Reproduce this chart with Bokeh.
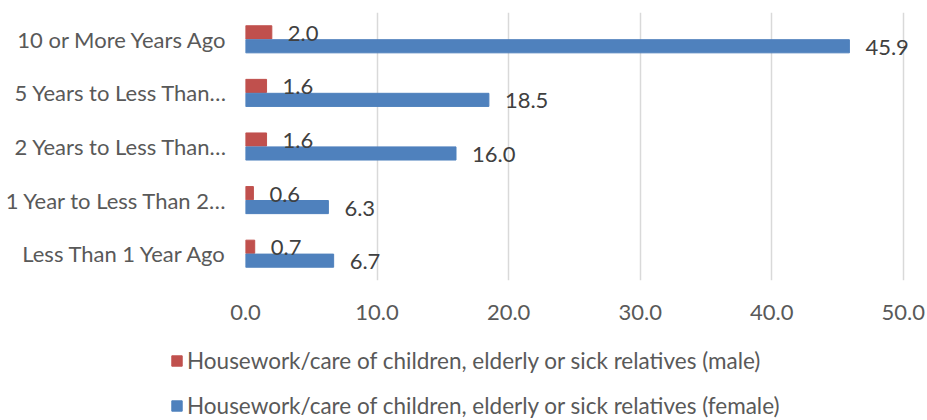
from bokeh.plotting import figure
from bokeh.models import (ColumnDataSource, FactorRange, Range1d, FixedTicker,
                          NumeralTickFormatter, Legend, LegendItem)
from bokeh.transform import dodge
from bokeh.core.properties import value
from bokeh.embed import file_html
from bokeh.resources import INLINE

# Data (bottom to top)
categories = ["Less Than 1 Year Ago", "1 Year to Less Than 2\u2026",
              "2 Years to Less Than\u2026", "5 Years to Less Than\u2026",
              "10 or More Years Ago"]
male = [0.7, 0.6, 1.6, 1.6, 2.0]
female = [6.7, 6.3, 16.0, 18.5, 45.9]
x_ticks = [0, 10, 20, 30, 40, 50]
male_name = "Housework/care of children, elderly or sick relatives (male)"
female_name = "Housework/care of children, elderly or sick relatives (female)"

FONT = "Lato"
RED = "#c0504d"
BLUE = "#4f81bd"

src = ColumnDataSource(dict(
    cat=categories, male=male, female=female,
    male_lbl=[f"{v:.1f}" for v in male],
    female_lbl=[f"{v:.1f}" for v in female],
))

p = figure(width=927, height=340, y_range=FactorRange(*categories, range_padding=0),
           x_range=Range1d(0, 51), output_backend="svg", toolbar_location=None,
           min_border_left=245, min_border_right=11, min_border_top=12,
           min_border_bottom=60)
p.outline_line_color = None
p.background_fill_color = "white"
p.border_fill_color = "white"

p.hbar(y=dodge("cat", 0.13, range=p.y_range), right="male", left=0, height=0.245,
       color=RED, source=src)
p.hbar(y=dodge("cat", -0.13, range=p.y_range), right="female", left=0, height=0.245,
       color=BLUE, source=src)

for col, lbl, off in (("male", "male_lbl", 0.13), ("female", "female_lbl", -0.13)):
    p.text(x=col, y=dodge("cat", off, range=p.y_range), text=lbl, source=src,
           x_offset=16, y_offset=1, text_align="left", text_baseline="middle",
           text_font=value(FONT), text_font_size="22px", text_color="#404040")

p.xaxis.ticker = FixedTicker(ticks=x_ticks)
p.xaxis.formatter = NumeralTickFormatter(format="0.0")
for ax in (p.xaxis[0], p.yaxis[0]):
    ax.axis_line_color = None
    ax.major_tick_line_color = None
    ax.minor_tick_line_color = None
    ax.major_label_text_font = FONT
    ax.major_label_text_font_size = "22px"
    ax.major_label_text_color = "#595959"
p.xaxis.major_label_standoff = 18
p.yaxis.major_label_standoff = 12

p.xgrid.grid_line_color = "#d9d9d9"
p.xgrid.grid_line_width = 1.5
p.ygrid.grid_line_color = None

# Legend panel: a second figure whose ranges keep its proxy bars out of view
lg = figure(width=927, height=80, output_backend="svg", toolbar_location=None,
            x_axis_type=None, y_axis_type=None, min_border=0,
            x_range=Range1d(-2, -1), y_range=FactorRange(*categories))
lg.outline_line_color = None
lg.xgrid.grid_line_color = None
lg.ygrid.grid_line_color = None
lm = lg.hbar(y="cat", right="male", left=0, height=0.5, color=RED, source=src)
lf = lg.hbar(y="cat", right="female", left=0, height=0.5, color=BLUE, source=src)

legend = Legend(items=[LegendItem(label=male_name, renderers=[lm], index=0),
                       LegendItem(label=female_name, renderers=[lf], index=0)],
                location=(170, 1), orientation="vertical",
                glyph_width=13, glyph_height=13, label_height=22, spacing=18,
                label_standoff=4, padding=0, margin=0,
                label_text_font=FONT, label_text_font_size="22.5px",
                label_text_color="#595959", border_line_color=None,
                background_fill_alpha=0)
lg.add_layout(legend, "center")

open("out.html", "w").write(file_html([p, lg], INLINE))
